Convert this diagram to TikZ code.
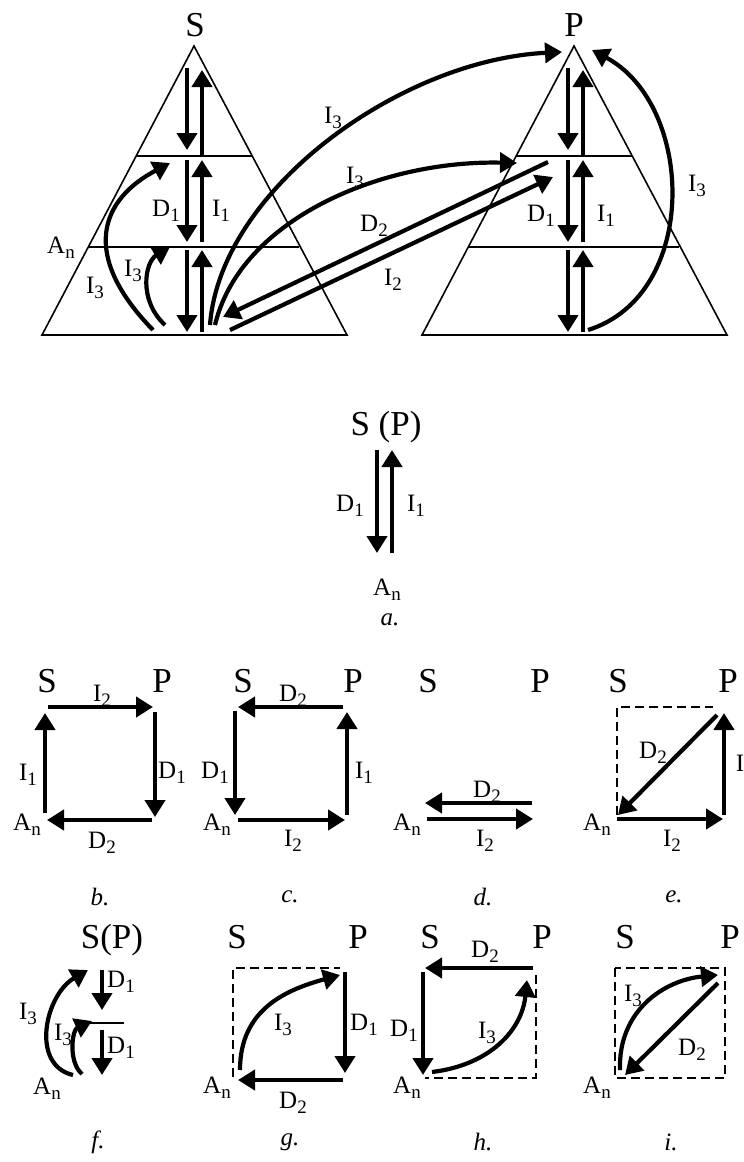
\documentclass[tikz,border=0pt]{standalone}
\usepackage{fontspec}
\setmainfont{Liberation Serif}
\usetikzlibrary{arrows.meta}
\newcommand{\mysub}[1]{\raisebox{-5pt}{\fontsize{19}{19}\selectfont #1}}
\begin{document}
\begin{tikzpicture}[x=1pt,y=-1pt,
  arr/.style={line width=4.2pt,-{Triangle[width=20pt,length=17pt]}},
  thinl/.style={line width=1.6pt,line join=miter},
  dsh/.style={line width=1.6pt,dash pattern=on 9pt off 5pt},
  lbl/.style={font=\fontsize{25}{25}\selectfont,inner sep=0pt},
  big/.style={font=\fontsize{35}{35}\selectfont,inner sep=0pt},
  paneltag/.style={font=\fontsize{25}{25}\selectfont\itshape,inner sep=0pt}]
\useasboundingbox (0,0) rectangle (744,1162);

% ===== top: two triangles =====
\coordinate (LA) at (194,46); \coordinate (LB1) at (42,335); \coordinate (LB2) at (347,335);
\coordinate (RA) at (574,46); \coordinate (RB1) at (422,335); \coordinate (RB2) at (727,335);
\draw[thinl] (LA) -- (LB1) -- (LB2) -- cycle;
\draw[thinl] (137,156) -- (252,156);
\draw[thinl] (89,247) -- (299,247);
\draw[thinl] (RA) -- (RB1) -- (RB2) -- cycle;
\draw[thinl] (517,156) -- (632,156);
\draw[thinl] (469,247) -- (679,247);

\foreach \dx in {0,381} {
  \draw[arr] (187+\dx,68) -- (187+\dx,150);
  \draw[arr] (202+\dx,155) -- (202+\dx,70);
  \draw[arr] (187+\dx,160) -- (187+\dx,242);
  \draw[arr] (202+\dx,242) -- (202+\dx,160);
  \draw[arr] (187+\dx,250) -- (187+\dx,332);
  \draw[arr] (202+\dx,332) -- (202+\dx,250);
}

\node[big] (S0) at (195,25) {S};
\node[big] (P0) at (574,25) {P};
\node[lbl] (An0) at (61,248) {A\mysub{n}};

% left I3 curves
\coordinate (c1s) at (153,330); \coordinate (c1e) at (170,163);
\draw[arr] (c1s) .. controls (80,255) and (100,200) .. (c1e);
\coordinate (c2s) at (165,325); \coordinate (c2e) at (170,247);
\draw[arr] (c2s) .. controls (138,300) and (145,262) .. (c2e);
\node[lbl] (t1) at (95,288) {I\mysub{3}};
\node[lbl] (t2) at (133,271) {I\mysub{3}};
\node[lbl] (t3) at (166,211) {D\mysub{1}};
\node[lbl] (t4) at (221,211) {I\mysub{1}};

% arcs from S to P
\coordinate (a1s) at (210,325); \coordinate (a1e) at (562,52);
\draw[arr] (a1s) .. controls (220,190) and (400,60) .. (a1e);
\coordinate (a2s) at (215,325); \coordinate (a2e) at (517,163);
\draw[arr] (a2s) .. controls (240,220) and (380,160) .. (a2e);
\coordinate (d2s) at (548,162); \coordinate (d2e) at (223,317);
\draw[arr] (d2s) -- (d2e);
\coordinate (i2s) at (230,330); \coordinate (i2e) at (553,177);
\draw[arr] (i2s) -- (i2e);
\coordinate (r3s) at (588,330); \coordinate (r3e) at (592,50);
\draw[arr] (r3s) .. controls (700,295) and (695,105) .. (r3e);

\node[lbl] (t5) at (333,118) {I\mysub{3}};
\node[lbl] (t6) at (355,178) {I\mysub{3}};
\node[lbl] (t7) at (374,226) {D\mysub{2}};
\node[lbl] (t8) at (393,280) {I\mysub{2}};
\node[lbl] (t9) at (541,216) {D\mysub{1}};
\node[lbl] (t10) at (606,216) {I\mysub{1}};
\node[lbl] (t11) at (697,186) {I\mysub{3}};

% ===== a =====
\node[big] (SPa) at (386,427) {S (P)};
\draw[arr] (377,450) -- (377,553);
\draw[arr] (392,553) -- (392,450);
\node[lbl] (a1) at (350,506) {D\mysub{1}};
\node[lbl] (a2) at (416,506) {I\mysub{1}};
\node[lbl] (a3) at (387,590) {A\mysub{n}};
\node[paneltag] (a4) at (390,620) {a.};

% ===== b =====
\node[big] (bS) at (47,681) {S};
\node[big] (bP) at (162,681) {P};
\draw[arr] (45,813) -- (45,713);
\draw[arr] (48,707) -- (153,707);
\draw[arr] (155,712) -- (155,817);
\draw[arr] (152,820) -- (47,820);
\node[lbl] (b1) at (102,696) {I\mysub{2}};
\node[lbl] (b2) at (28,775) {I\mysub{1}};
\node[lbl] (b3) at (172,773) {D\mysub{1}};
\node[lbl] (b4) at (102,843) {D\mysub{2}};
\node[lbl] (b5) at (27,825) {A\mysub{n}};
\node[paneltag] (b6) at (100,897) {b.};

% ===== c =====
\node[big] (cS) at (243,681) {S};
\node[big] (cP) at (353,681) {P};
\draw[arr] (343,707) -- (238,707);
\draw[arr] (235,711) -- (235,815);
\draw[arr] (238,820) -- (345,820);
\draw[arr] (347,815) -- (347,712);
\node[lbl] (c1) at (293,696) {D\mysub{2}};
\node[lbl] (c2) at (215,773) {D\mysub{1}};
\node[lbl] (c3) at (364,773) {I\mysub{1}};
\node[lbl] (c4) at (293,841) {I\mysub{2}};
\node[lbl] (c5) at (217,825) {A\mysub{n}};
\node[paneltag] (c6) at (290,897) {c.};

% ===== d =====
\node[big] (dS) at (428,681) {S};
\node[big] (dP) at (540,681) {P};
\draw[arr] (532,803) -- (425,803);
\draw[arr] (427,819) -- (533,819);
\node[lbl] (d1) at (487,792) {D\mysub{2}};
\node[lbl] (d2) at (485,841) {I\mysub{2}};
\node[lbl] (d3) at (407,825) {A\mysub{n}};
\node[paneltag] (d4) at (483,897) {d.};

% ===== e =====
\node[big] (eS) at (618,681) {S};
\node[big] (eP) at (728,681) {P};
\draw[dsh] (617,815) -- (617,707) -- (713,707);
\draw[arr] (617,819) -- (723,819);
\draw[arr] (724,815) -- (724,713);
\draw[arr] (717,715) -- (618,815);
\node[lbl] (e1) at (653,753) {D\mysub{2}};
\node[lbl] (e2) at (740,763) {I};
\node[lbl] (e3) at (672,841) {I\mysub{2}};
\node[lbl] (e4) at (597,825) {A\mysub{n}};
\node[paneltag] (e5) at (674,897) {e.};

% ===== f =====
\node[big] (fSP) at (112,940) {S(P)};
\draw[arr] (102,970) -- (102,1010);
\draw[thinl] (80,1023) -- (124,1023);
\draw[arr] (102,1030) -- (102,1075);
\draw[arr] (73,1075) .. controls (30,1065) and (45,995) .. (88,970);
\draw[arr] (82,1074) .. controls (68,1062) and (72,1030) .. (92,1021);
\node[lbl] (f1) at (121,982) {D\mysub{1}};
\node[lbl] (f2) at (121,1048) {D\mysub{1}};
\node[lbl] (f3) at (28,1014) {I\mysub{3}};
\node[lbl] (f4) at (63,1035) {I\mysub{3}};
\node[lbl] (f5) at (47,1089) {A\mysub{n}};
\node[paneltag] (f6) at (98,1142) {f.};

% ===== g =====
\node[big] (gS) at (237,937) {S};
\node[big] (gP) at (358,937) {P};
\draw[dsh] (233,1077) -- (233,968) -- (340,968);
\draw[arr] (345,972) -- (345,1073);
\draw[arr] (343,1080) -- (238,1080);
\draw[arr] (240,1070) .. controls (240,1010) and (285,990) .. (340,975);
\node[lbl] (g1) at (283,1025) {I\mysub{3}};
\node[lbl] (g2) at (364,1025) {D\mysub{1}};
\node[lbl] (g3) at (217,1088) {A\mysub{n}};
\node[lbl] (g4) at (293,1103) {D\mysub{2}};
\node[paneltag] (g5) at (290,1142) {g.};

% ===== h =====
\node[big] (hS) at (430,937) {S};
\node[big] (hP) at (542,937) {P};
\draw[dsh] (536,975) -- (536,1078) -- (425,1078);
\draw[arr] (533,968) -- (425,968);
\draw[arr] (423,972) -- (423,1075);
\draw[arr] (432,1072) .. controls (490,1065) and (522,1030) .. (527,980);
\node[lbl] (h1) at (485,952) {D\mysub{2}};
\node[lbl] (h2) at (404,1031) {D\mysub{1}};
\node[lbl] (h3) at (487,1033) {I\mysub{3}};
\node[lbl] (h4) at (407,1088) {A\mysub{n}};
\node[paneltag] (h5) at (483,1142) {h.};

% ===== i =====
\node[big] (iS) at (625,937) {S};
\node[big] (iP) at (730,937) {P};
\draw[dsh] (615,968) rectangle (725,1078);
\draw[arr] (620,1070) .. controls (618,1010) and (665,980) .. (718,975);
\draw[arr] (718,983) -- (625,1075);
\node[lbl] (i1) at (633,996) {I\mysub{3}};
\node[lbl] (i2) at (692,1050) {D\mysub{2}};
\node[lbl] (i3) at (597,1088) {A\mysub{n}};
\node[paneltag] (i4) at (671,1142) {i.};
\end{tikzpicture}
\end{document}
